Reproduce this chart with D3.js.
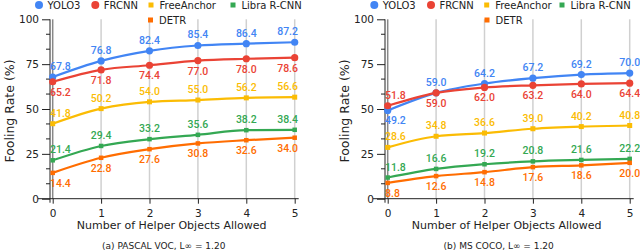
<!DOCTYPE html>
<html>
<head>
  <meta charset="utf-8">
  <script src="https://cdn.jsdelivr.net/npm/d3@7"></script>
  <style>
    body { margin: 0; background: #fff; }
    svg text { font-family: "DejaVu Sans", sans-serif; }
    .val { font-family: Roboto, sans-serif; font-size: 10.5px; font-weight: 500; }
  </style>
</head>
<body>
<svg id="chart" width="640" height="252"></svg>
<script>
  // data
  var helpers = [0, 1, 2, 3, 4, 5];
  var yTicks = [0, 25, 50, 75, 100];
  var series = ["YOLO3", "FRCNN", "FreeAnchor", "Libra R-CNN", "DETR"];
  var colors = ["#4285f4", "#ea4335", "#fbbc04", "#34a853", "#ff6d01"];

  var vocYolo = [67.8, 76.8, 82.4, 85.4, 86.4, 87.2];
  var vocFrcnn = [65.2, 71.8, 74.4, 77.0, 78.0, 78.6];
  var vocFree = [41.8, 50.2, 54.0, 55.0, 56.2, 56.6];
  var vocLibra = [21.4, 29.4, 33.2, 35.6, 38.2, 38.4];
  var vocDetr = [14.4, 22.8, 27.6, 30.8, 32.6, 34.0];

  var cocoYolo = [49.2, 59.0, 64.2, 67.2, 69.2, 70.0];
  var cocoFrcnn = [51.8, 59.0, 62.0, 63.2, 64.0, 64.4];
  var cocoFree = [28.6, 34.8, 36.6, 39.0, 40.2, 40.8];
  var cocoLibra = [11.8, 16.6, 19.2, 20.8, 21.6, 22.2];
  var cocoDetr = [8.8, 12.6, 14.8, 17.6, 18.6, 20.0];

  // label above (-1) or below (1) each point
  var vocSide = [[-1,-1,-1,-1,-1,-1],[1,1,1,1,1,1],[-1,-1,-1,-1,-1,-1],[-1,-1,-1,-1,-1,-1],[1,1,1,1,1,1]];
  var cocoSide = [[1,-1,-1,-1,-1,-1],[-1,1,1,1,1,1],[-1,-1,-1,-1,-1,-1],[-1,-1,-1,-1,-1,-1],[1,1,1,1,1,1]];

  var panels = [
    {dx: 0, vals: [vocYolo, vocFrcnn, vocFree, vocLibra, vocDetr], side: vocSide,
     caption: "(a) PASCAL VOC, L\u221E = 1.20", maxX: 298,
     legend: [[39, 5], [95.3, 5], [151, 5], [233, 5], [150.5, 20]]},
    {dx: 335, vals: [cocoYolo, cocoFrcnn, cocoFree, cocoLibra, cocoDetr], side: cocoSide,
     caption: "(b) MS COCO, L\u221E = 1.20", maxX: 700,
     legend: [[39.3, 5], [96, 5], [151.7, 5], [227, 5], [152, 20]]}
  ];

  var svg = d3.select("#chart");

  var y = d3.scaleLinear().domain([0, 100]).range([198.7, 19.3]);

  panels.forEach(function(p) {
    var g = svg.append("g").attr("transform", "translate(" + p.dx + ",0)");
    var x = d3.scaleLinear().domain([0, 5]).range([52.7, 294.7]);
    var axisX = 50;

    // grid
    g.selectAll(".grid").data(helpers).enter().append("line")
      .attr("x1", d => x(d)).attr("x2", d => x(d))
      .attr("y1", y(100)).attr("y2", y(0))
      .attr("stroke", (d, i) => i === 0 ? "#888" : "#d0d0d0")
      .attr("stroke-width", 1.5);

    // y axis
    var yAxis = d3.axisLeft(y).tickValues(yTicks).tickSize(8).tickPadding(3);
    var ya = g.append("g").attr("transform", "translate(" + axisX + ",0)").call(yAxis);
    var minor = d3.range(0, 100, 25 / 3).filter(v => Math.abs(v / 25 - Math.round(v / 25)) > 0.01);
    ya.selectAll(".minor").data(minor).enter().append("line")
      .attr("x1", -4).attr("x2", 0)
      .attr("y1", d => y(d)).attr("y2", d => y(d))
      .attr("stroke", "#222");
    ya.select(".domain").attr("d", "M0," + y(100) + "V" + (y(0) + 4));

    // x axis
    var xAxis = d3.axisBottom(x).tickValues(helpers).tickFormat(d3.format("d")).tickSize(5).tickPadding(6);
    var xa = g.append("g").attr("transform", "translate(0," + y(0) + ")").call(xAxis);
    xa.select(".domain").attr("d", "M" + (axisX - 12) + ",0H" + (x(5) + 4));

    [ya, xa].forEach(function(a) {
      a.selectAll("text").attr("font-size", 10.5).attr("fill", "#222").attr("font-family", "DejaVu Sans, sans-serif");
      a.selectAll("line, path").attr("stroke", "#222");
    });

    g.append("text")
      .attr("x", (x(0) + x(5)) / 2 - 2).attr("y", 229)
      .attr("text-anchor", "middle").attr("font-size", 11).attr("fill", "#222")
      .text("Number of Helper Objects Allowed");

    g.append("text")
      .attr("transform", "translate(14," + ((y(0) + y(100)) / 2 + 2) + ") rotate(-90)")
      .attr("text-anchor", "middle").attr("font-size", 12.5).attr("fill", "#222")
      .text("Fooling Rate (%)");

    // caption at the bottom edge
    g.append("text")
      .attr("x", (x(0) + x(5)) / 2 - 10).attr("y", 249)
      .attr("text-anchor", "middle").attr("font-size", 9)
      .attr("font-family", "DejaVu Serif, serif").attr("fill", "#222")
      .text(p.caption);

    // lines
    var line = d3.line().x((d, i) => x(helpers[i])).y(d => y(d)).curve(d3.curveMonotoneX);
    p.vals.forEach(function(vals, si) {
      var c = colors[si];
      g.append("path").datum(vals).attr("d", line)
        .attr("fill", "none").attr("stroke", c).attr("stroke-width", 2.2);
      if (si < 2) {
        g.selectAll(".pt" + si).data(vals).enter().append("circle")
          .attr("cx", (d, i) => x(helpers[i])).attr("cy", d => y(d)).attr("r", 3.6).attr("fill", c);
      } else {
        var s = si === 2 ? 5 : 4.5;
        g.selectAll(".pt" + si).data(vals).enter().append("rect")
          .attr("x", (d, i) => x(helpers[i]) - s / 2).attr("y", d => y(d) - s / 2)
          .attr("width", s).attr("height", s).attr("fill", c);
      }
    });

    // value labels
    p.vals.forEach(function(vals, si) {
      var c = colors[si];
      g.selectAll(".lb" + si).data(vals).enter().append("text")
        .attr("class", "val").attr("fill", c)
        .attr("y", (d, i) => p.side[si][i] < 0 ? y(d) - 7 : y(d) + 14)
        .text(d => d.toFixed(1))
        .each(function(d, i) {
          var w = this.getComputedTextLength();
          var left = x(helpers[i]) - w / 2;
          left = Math.max(axisX, Math.min(left, p.maxX - w));
          d3.select(this).attr("x", left);
        });
    });

    // legend
    series.forEach(function(name, si) {
      var lx = p.legend[si][0], ly = p.legend[si][1];
      if (si < 2) {
        g.append("circle").attr("cx", lx).attr("cy", ly).attr("r", 4).attr("fill", colors[si]);
      } else {
        g.append("rect").attr("x", lx - 2.5).attr("y", ly - 2.5).attr("width", 5).attr("height", 5)
          .attr("fill", colors[si]);
      }
      g.append("text").attr("x", lx + 8.5).attr("y", ly + 3.7)
        .attr("font-size", 10).attr("fill", "#222").text(name);
    });
  });
</script>
</body>
</html>
